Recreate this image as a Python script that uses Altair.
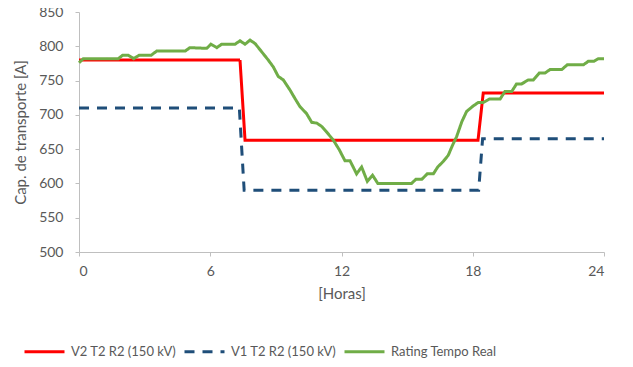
import altair as alt
import pandas as pd

series_names = ["V2 T2 R2 (150 kV)", "V1 T2 R2 (150 kV)", "Rating Tempo Real"]

red_hours = [0, 7.36, 7.59, 18.24, 18.48, 24]
red_values = [780, 780, 663, 663, 732, 732]

blue_hours = [0, 7.33, 7.55, 18.27, 18.45, 24]
blue_values = [710, 710, 590, 590, 665, 665]

green_hours = [0.0, 0.2, 1.8, 2.0, 2.25, 2.5, 2.75, 3.3, 3.55, 4.85, 5.07, 5.84,
               6.03, 6.3, 6.52, 7.13, 7.36, 7.59, 7.82, 8.05, 8.35, 8.65, 8.88,
               9.11, 9.34, 9.65, 9.87, 10.1, 10.4, 10.64, 10.87, 11.1, 11.32,
               11.63, 11.9, 12.16, 12.39, 12.69, 12.92, 13.18, 13.42, 13.66,
               15.2, 15.4, 15.67, 15.92, 16.2, 16.4, 16.65, 16.88, 17.08, 17.26,
               17.5, 17.72, 18.02, 18.25, 18.48, 18.76, 19.25, 19.47, 19.78,
               20.0, 20.23, 20.54, 20.77, 21.04, 21.3, 21.53, 22.07, 22.32,
               23.06, 23.28, 23.54, 23.74, 24.0]
green_values = [776, 782, 782, 787, 787, 782, 787, 787, 793, 793, 798, 797,
                803, 798, 803, 803, 808, 803, 809, 804, 792, 780, 770,
                756, 751, 736, 724, 712, 702, 689, 688, 683, 675,
                663, 649, 633, 633, 614, 624, 603, 612, 600,
                600, 606, 606, 614, 614, 624, 632, 641, 656, 668,
                690, 705, 713, 718, 718, 723, 723, 734, 734,
                745, 745, 751, 751, 761, 761, 766, 766, 773,
                773, 778, 778, 782, 782]

rows = []
for name, hs, vs in zip(series_names,
                        [red_hours, blue_hours, green_hours],
                        [red_values, blue_values, green_values]):
    for i, (h, v) in enumerate(zip(hs, vs)):
        rows.append({"serie": name, "hora": h, "valor": v, "ordem": i})
df = pd.DataFrame(rows)

FONT = "Lato"
GRAY = "#595959"

chart = alt.Chart(df).mark_line(strokeWidth=3, strokeCap="butt").encode(
    x=alt.X("hora:Q", scale=alt.Scale(domain=[0, 24], nice=False),
            axis=alt.Axis(values=[0, 6, 12, 18, 24], title="[Horas]", grid=False,
                          tickSize=4, labelPadding=8, titlePadding=8)),
    y=alt.Y("valor:Q", scale=alt.Scale(domain=[500, 850], nice=False, zero=False),
            axis=alt.Axis(values=[500, 550, 600, 650, 700, 750, 800, 850],
                          title="Cap. de transporte [A]", grid=False,
                          tickSize=4, labelPadding=12, titlePadding=10)),
    color=alt.Color("serie:N",
                    scale=alt.Scale(domain=series_names,
                                    range=["#FF0000", "#1F4E79", "#70AD47"]),
                    legend=alt.Legend(title=None, orient="none", direction="horizontal",
                                      legendX=-56, legendY=318,
                                      symbolType="stroke", symbolSize=1600,
                                      symbolStrokeWidth=3, columnPadding=1,
                                      labelOffset=5)),
    strokeDash=alt.StrokeDash("serie:N",
                              scale=alt.Scale(domain=series_names,
                                              range=[[1, 0], [10, 8], [1, 0]]),
                              legend=None),
    order="ordem:Q",
).properties(
    width=525, height=240,
    padding={"left": 71, "top": 4, "right": 20, "bottom": 115},
    autosize=alt.AutoSizeParams(type="none"),
).configure_view(stroke=None).configure_axis(
    domainColor="#BFBFBF", tickColor="#BFBFBF", labelColor=GRAY, titleColor=GRAY,
    labelFont=FONT, titleFont=FONT, labelFontSize=14, titleFontSize=15,
    titleFontWeight="normal",
).configure_legend(
    labelFont=FONT, labelFontSize=13, labelColor=GRAY,
)

chart.save("out.html", embed_options={"renderer": "svg", "actions": False})
